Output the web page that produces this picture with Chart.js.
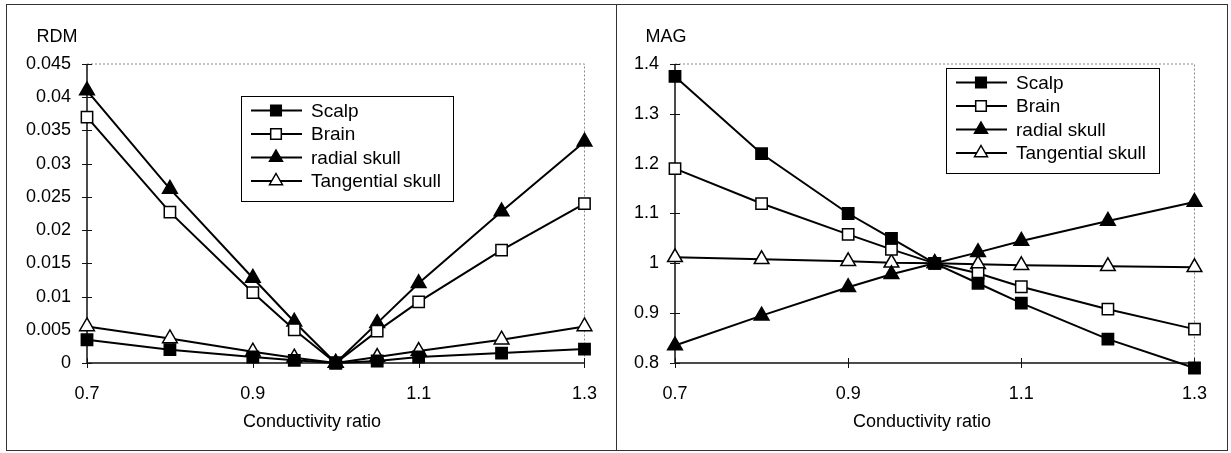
<!DOCTYPE html>
<html>
<head>
<meta charset="utf-8">
<script src="https://cdn.jsdelivr.net/npm/chart.js@4.4.0/dist/chart.umd.min.js"></script>
<style>
  body { margin: 0; background: #fff; width: 1231px; height: 453px; position: relative; overflow: hidden; }
  .panel { position: absolute; top: 4px; width: 610px; height: 445px; border: 1px solid #333; background: #fff; }
  #p1 { left: 6px; }
  #p2 { left: 616px; }
</style>
</head>
<body>
<div class="panel" id="p1"><canvas id="rdmChart"></canvas></div>
<div class="panel" id="p2"><canvas id="magChart"></canvas></div>
<script>
// data
const ratio = [0.7, 0.8, 0.9, 0.95, 1.0, 1.05, 1.1, 1.2, 1.3];
const xTicks = [0.7, 0.9, 1.1, 1.3];
const xTickLabels = ["0.7", "0.9", "1.1", "1.3"];
const seriesNames = ["Scalp", "Brain", "radial skull", "Tangential skull"];

const rdmScalp = [0.0035, 0.002, 0.0009, 0.0004, 0, 0.0003, 0.0009, 0.0015, 0.0021];
const rdmBrain = [0.037, 0.0227, 0.0106, 0.005, 0, 0.0048, 0.0092, 0.017, 0.024];
const rdmRadial = [0.041, 0.0262, 0.0128, 0.0062, 0, 0.006, 0.012, 0.0228, 0.0333];
const rdmTangential = [0.0055, 0.0037, 0.0017, 0.0008, 0, 0.0009, 0.0018, 0.0035, 0.0055];
const rdmTicks = [0, 0.005, 0.01, 0.015, 0.02, 0.025, 0.03, 0.035, 0.04, 0.045];
const rdmTickLabels = ["0", "0.005", "0.01", "0.015", "0.02", "0.025", "0.03", "0.035", "0.04", "0.045"];

const magScalp = [1.375, 1.22, 1.1, 1.05, 1.0, 0.96, 0.92, 0.848, 0.79];
const magBrain = [1.19, 1.12, 1.058, 1.028, 1.0, 0.98, 0.953, 0.908, 0.868];
const magRadial = [0.835, 0.895, 0.952, 0.978, 1.0, 1.022, 1.045, 1.085, 1.123];
const magTangential = [1.012, 1.008, 1.004, 1.001, 1.0, 0.998, 0.996, 0.994, 0.992];
const magTicks = [0.8, 0.9, 1.0, 1.1, 1.2, 1.3, 1.4];
const magTickLabels = ["0.8", "0.9", "1", "1.1", "1.2", "1.3", "1.4"];

const FONT = "Liberation Sans, Arial, sans-serif";
const markerStyles = ["rect", "rect", "triangle", "triangle"];
const markerFill = ["#000", "#fff", "#000", "#fff"];

function drawMarker(ctx, style, fill, x, y, r) {
    ctx.beginPath();
    if (style === "rect") {
        const s = Math.SQRT1_2 * r;
        ctx.rect(x - s, y - s, 2 * s, 2 * s);
    } else {
        ctx.moveTo(x, y - r);
        ctx.lineTo(x + r * 0.866, y + r * 0.5);
        ctx.lineTo(x - r * 0.866, y + r * 0.5);
        ctx.closePath();
    }
    ctx.fillStyle = fill;
    ctx.fill();
    ctx.lineWidth = 1.5;
    ctx.strokeStyle = "#000";
    ctx.stroke();
}

// axes frame, crossing tick marks, title, x title and boxed legend
const panelPlugin = {
    id: "panel",
    beforeDatasetsDraw(chart) {
        const { ctx, chartArea: a, scales } = chart;
        ctx.save();
        ctx.strokeStyle = "#888";
        ctx.lineWidth = 1;
        ctx.setLineDash([2, 2]);
        ctx.beginPath();
        ctx.moveTo(a.left, a.top);
        ctx.lineTo(a.right, a.top);
        ctx.lineTo(a.right, a.bottom);
        ctx.stroke();
        ctx.setLineDash([]);
        ctx.strokeStyle = "#111";
        ctx.lineWidth = 1.5;
        ctx.beginPath();
        ctx.moveTo(a.left, a.top);
        ctx.lineTo(a.left, a.bottom);
        ctx.lineTo(a.right, a.bottom);
        ctx.stroke();
        ctx.lineWidth = 1;
        ctx.beginPath();
        scales.y.ticks.forEach(t => {
            const y = Math.round(scales.y.getPixelForValue(t.value)) + 0.5;
            ctx.moveTo(a.left - 5, y);
            ctx.lineTo(a.left + 5, y);
        });
        scales.x.ticks.forEach(t => {
            const x = Math.round(scales.x.getPixelForValue(t.value)) + 0.5;
            ctx.moveTo(x, a.bottom - 5);
            ctx.lineTo(x, a.bottom + 5);
        });
        ctx.stroke();
        ctx.restore();
    },
    afterDraw(chart, args, opts) {
        const { ctx, width } = chart;
        ctx.save();
        ctx.fillStyle = "#000";
        ctx.font = "18px " + FONT;
        ctx.textAlign = "center";
        ctx.textBaseline = "middle";
        ctx.fillText(opts.title, opts.titleX, 32);
        ctx.fillText("Conductivity ratio", width / 2, 417);

        const [lx, ly, lw, lh] = opts.legendBox;
        ctx.fillStyle = "#fff";
        ctx.fillRect(lx, ly, lw, lh);
        ctx.strokeStyle = "#000";
        ctx.lineWidth = 1;
        ctx.strokeRect(lx + 0.5, ly + 0.5, lw, lh);
        ctx.textAlign = "left";
        ctx.font = "19px " + FONT;
        chart.data.datasets.forEach((ds, i) => {
            const y = ly + 14.5 + i * 23.5;
            ctx.strokeStyle = "#000";
            ctx.lineWidth = 2;
            ctx.beginPath();
            ctx.moveTo(lx + 10, y);
            ctx.lineTo(lx + 61, y);
            ctx.stroke();
            drawMarker(ctx, ds.pointStyle, ds.pointBackgroundColor, lx + 35, y, 7.5);
            ctx.fillStyle = "#000";
            ctx.fillText(ds.label, lx + 70, y + 1);
        });
        ctx.restore();
    }
};

function makeChart(canvasId, values, yTicks, yLabels, panel) {
    const datasets = values.map((vals, i) => ({
        label: seriesNames[i],
        data: ratio.map((r, j) => ({ x: r, y: vals[j] })),
        borderColor: "#000",
        borderWidth: 2,
        pointStyle: markerStyles[i],
        pointRadius: markerStyles[i] === "rect" ? 8 : 8.5,
        pointBackgroundColor: markerFill[i],
        pointBorderColor: "#000",
        pointBorderWidth: 1.5,
        tension: 0,
        clip: false
    }));

    return new Chart(document.getElementById(canvasId), {
        type: "line",
        data: { datasets: datasets },
        options: {
            responsive: true,
            maintainAspectRatio: false,
            animation: false,
            layout: { padding: { left: 0, right: panel.padRight, top: 59, bottom: 0 } },
            plugins: {
                legend: { display: false },
                tooltip: { enabled: false },
                panel: panel
            },
            scales: {
                x: {
                    type: "linear",
                    min: 0.7,
                    max: 1.3,
                    afterBuildTicks: s => { s.ticks = xTicks.map(v => ({ value: v })); },
                    afterFit: s => { s.height = 87; },
                    grid: { display: false, drawTicks: false },
                    border: { display: false },
                    ticks: {
                        color: "#000",
                        font: { family: FONT, size: 18 },
                        padding: 20,
                        maxRotation: 0,
                        callback: (v, i) => xTickLabels[i]
                    }
                },
                y: {
                    min: yTicks[0],
                    max: yTicks[yTicks.length - 1],
                    afterBuildTicks: s => { s.ticks = yTicks.map(v => ({ value: v })); },
                    afterFit: s => { s.width = panel.yWidth; },
                    grid: { display: false, drawTicks: false },
                    border: { display: false },
                    ticks: {
                        color: "#000",
                        font: { family: FONT, size: 18 },
                        padding: 16,
                        callback: (v, i) => yLabels[i]
                    }
                }
            }
        },
        plugins: [panelPlugin]
    });
}

document.addEventListener("DOMContentLoaded", function () {
    makeChart("rdmChart", [rdmScalp, rdmBrain, rdmRadial, rdmTangential], rdmTicks, rdmTickLabels,
        { title: "RDM", titleX: 50, legendBox: [234, 91, 212, 105], padRight: 21, yWidth: 80 });
    makeChart("magChart", [magScalp, magBrain, magRadial, magTangential], magTicks, magTickLabels,
        { title: "MAG", titleX: 49, legendBox: [329, 63, 213, 105], padRight: 23, yWidth: 58 });
});
</script>
</body>
</html>
